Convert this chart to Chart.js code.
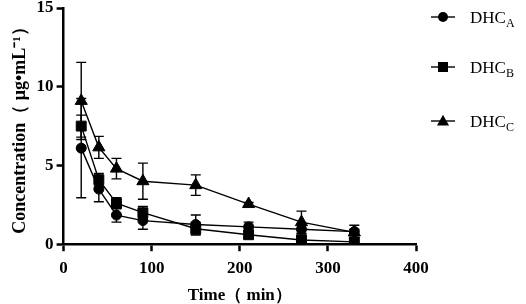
<!DOCTYPE html>
<html>
<head>
<meta charset="utf-8">
<script src="https://cdn.jsdelivr.net/npm/chart.js@4"></script>
<style>
  html, body { margin: 0; padding: 0; background: #fff; }
  #wrap { width: 526px; height: 304px; position: relative; }
</style>
</head>
<body>
<div id="wrap"><canvas id="grafico"></canvas></div>
<script>
// --- DATOS ---
const tiempos = [20, 40, 60, 90, 150, 210, 270, 330];
const dhcA = [6.1, 3.5, 1.85, 1.5, 1.25, 1.1, 0.95, 0.8];
const errA = [3.15, 0.8, 0.45, 0.55, 0.6, 0.3, 0.3, 0.4];
const dhcB = [7.5, 4.1, 2.6, 2.0, 0.98, 0.6, 0.27, 0.15];
const errB = [0.7, 0.4, 0.35, 0.4, 0.4, 0.2, 0.15, 0.1];
const dhcC = [9.1, 6.15, 4.8, 4.0, 3.75, 2.55, 1.4, 0.75];
const errC = [2.45, 0.7, 0.65, 1.15, 0.65, 0.1, 0.7, 0.2];
const xTicks = [0, 100, 200, 300, 400];
const yTicks = [0, 5, 10, 15];
const series = [
  { nombre: 'DHC', sub: 'A', valores: dhcA, errores: errA, marca: 'circle' },
  { nombre: 'DHC', sub: 'B', valores: dhcB, errores: errB, marca: 'rect' },
  { nombre: 'DHC', sub: 'C', valores: dhcC, errores: errC, marca: 'triangle' }
];

// dibuja un marcador simple (para la leyenda)
function dibujarMarca(ctx, tipo, x, y, r) {
  ctx.beginPath();
  if (tipo === 'circle') {
    ctx.arc(x, y, r, 0, Math.PI * 2);
  } else if (tipo === 'rect') {
    ctx.rect(x - r, y - r, r * 2, r * 2);
  } else {
    ctx.moveTo(x, y - r * 1.15);
    ctx.lineTo(x + r * 1.1, y + r * 0.8);
    ctx.lineTo(x - r * 1.1, y + r * 0.8);
    ctx.closePath();
  }
  ctx.fill();
}

// --- BARRAS DE ERROR ---
const barrasError = {
  id: 'barrasError',
  beforeDatasetsDraw(chart) {
    const ctx = chart.ctx;
    const xs = chart.scales.x, ys = chart.scales.y;
    ctx.save();
    ctx.strokeStyle = '#000';
    ctx.lineWidth = 1.4;
    series.forEach(s => {
      s.valores.forEach((v, i) => {
        const px = xs.getPixelForValue(tiempos[i]);
        const top = ys.getPixelForValue(v + s.errores[i]);
        const bot = ys.getPixelForValue(Math.max(0, v - s.errores[i]));
        ctx.beginPath();
        ctx.moveTo(px, top); ctx.lineTo(px, bot);
        ctx.moveTo(px - 5, top); ctx.lineTo(px + 5, top);
        ctx.moveTo(px - 5, bot); ctx.lineTo(px + 5, bot);
        ctx.stroke();
      });
    });
    ctx.restore();
  }
};

// --- LEYENDA CON SUBINDICES ---
const leyenda = {
  id: 'leyenda',
  afterDraw(chart) {
    const ctx = chart.ctx;
    const filas = [17, 67, 121];
    ctx.save();
    ctx.fillStyle = '#000';
    ctx.strokeStyle = '#000';
    ctx.lineWidth = 1.4;
    series.forEach((s, i) => {
      const y = filas[i];
      ctx.beginPath();
      ctx.moveTo(431, y); ctx.lineTo(455, y);
      ctx.stroke();
      dibujarMarca(ctx, s.marca, 443, y, s.marca === 'triangle' ? 5.5 : 5);
      ctx.textBaseline = 'alphabetic';
      ctx.textAlign = 'left';
      ctx.font = '17px "Liberation Serif", "Times New Roman", serif';
      ctx.fillText(s.nombre, 470, y + 6);
      const w = ctx.measureText(s.nombre).width;
      ctx.font = '12px "Liberation Serif", "Times New Roman", serif';
      ctx.fillText(s.sub, 470 + w, y + 10);
    });
    ctx.restore();
  }
};

const datasets = series.map(s => ({
  label: s.nombre + s.sub,
  data: s.valores.map((v, i) => ({ x: tiempos[i], y: v })),
  borderColor: '#000',
  backgroundColor: '#000',
  borderWidth: 1.4,
  pointStyle: s.marca,
  pointRadius: s.marca === 'circle' ? 5 : 7,
  pointBorderWidth: 1,
  pointBorderColor: '#000',
  tension: 0
}));

const fuenteTicks = { family: '"Liberation Serif", serif', weight: 'bold', size: 17 };

new Chart(document.getElementById('grafico'), {
  type: 'line',
  data: { datasets: datasets },
  options: {
    responsive: true,
    maintainAspectRatio: false,
    animation: false,
    layout: { padding: { top: 0, right: 110, bottom: -2, left: 6 } },
    plugins: { legend: { display: false }, tooltip: { enabled: false } },
    scales: {
      x: {
        type: 'linear',
        min: 0, max: 400,
        afterBuildTicks: ax => { ax.ticks = xTicks.map(v => ({ value: v })); },
        grid: { drawOnChartArea: false, tickLength: 7, tickWidth: 2.5, tickColor: '#000' },
        border: { color: '#000', width: 2.5 },
        ticks: { color: '#000', font: fuenteTicks, padding: 7 },
        title: { display: true, text: 'Time（ min）', color: '#000', font: { family: '"Liberation Serif", serif', weight: 'bold', size: 17 }, padding: { top: 0, bottom: 0 } }
      },
      y: {
        min: 0, max: 15,
        afterBuildTicks: ax => { ax.ticks = yTicks.map(v => ({ value: v })); },
        // menos espacio arriba para que el 15 quede pegado al borde
        afterFit: ax => { ax.paddingTop = 7; },
        grid: { drawOnChartArea: false, tickLength: 7, tickWidth: 2.5, tickColor: '#000' },
        border: { color: '#000', width: 2.5 },
        ticks: { color: '#000', font: fuenteTicks, padding: 3 },
        title: { display: true, text: 'Concentration（ μg•mL⁻¹）', color: '#000', font: { family: '"Liberation Serif", serif', weight: 'bold', size: 18 }, padding: { bottom: 2 } }
      }
    }
  },
  plugins: [barrasError, leyenda]
});
</script>
</body>
</html>
